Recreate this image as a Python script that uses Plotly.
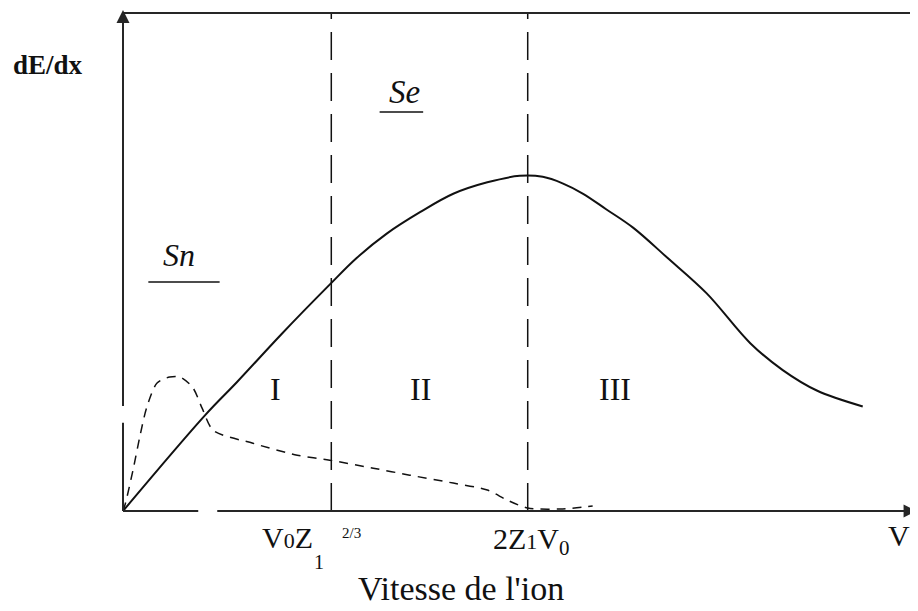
import plotly.graph_objects as go

# electronic stopping Se (solid), arbitrary units 0..100
se_x = [0, 10.35, 14.4, 20.0, 26.0, 29.5, 33.3, 37.5, 41.7, 46.0, 50.1, 53.0, 55.5, 58.1, 61.0, 64.4, 68.7, 73.7, 79.2, 83.3, 87.6, 93.4]
se_y = [0, 19.2, 25.9, 35.5, 45.3, 50.8, 55.7, 60.0, 63.7, 66.0, 67.3, 67.1, 65.8, 63.7, 60.6, 56.9, 50.9, 43.7, 33.7, 28.3, 24.2, 21.0]

# nuclear stopping Sn (dashed)
sn_x = [0, 0.3, 1.26, 2.2, 3.0, 4.3, 5.9, 7.2, 8.8, 10.0, 11.4, 16.4, 22.0, 26.1, 31.6, 36.2, 41.7, 46.0, 48.5, 51.1, 55.2, 59.3]
sn_y = [0, 1.5, 8.2, 15.5, 20.8, 25.7, 26.9, 26.9, 24.8, 20.6, 16.2, 13.6, 11.2, 10.2, 8.6, 7.2, 5.6, 4.2, 2.2, 0.6, 0.4, 1.0]

# region boundaries V0 Z1^2/3 and 2 Z1 V0
boundaries = [26.3, 51.1]
regions = ['I', 'II', 'III']
region_x = [19.2, 37.5, 62.1]

SERIF = 'Liberation Serif'
INK = '#111111'

fig = go.Figure()
fig.add_trace(go.Scatter(x=se_x, y=se_y, mode='lines', line=dict(color=INK, width=2, shape='spline', smoothing=1.0),
                         hoverinfo='skip'))
fig.add_trace(go.Scatter(x=sn_x, y=sn_y, mode='lines',
                         line=dict(color=INK, width=1.5, dash='9px,7px', shape='spline', smoothing=0.8),
                         hoverinfo='skip'))

shapes = []
for b in boundaries:
    shapes.append(dict(type='line', xref='x', yref='paper', x0=b, x1=b, y0=0, y1=1,
                       line=dict(color=INK, width=1.5, dash='28px,13px')))
frame = dict(color='#262626', width=2)
# frame and axes (with the small gaps seen in the original)
shapes += [
    dict(type='line', xref='paper', yref='paper', x0=0, x1=1, y0=1, y1=1, line=frame),
    dict(type='line', xref='paper', yref='paper', x0=0.999, x1=0.999, y0=0, y1=1, line=frame),
    dict(type='line', xref='paper', yref='paper', x0=0, x1=0.095, y0=0, y1=0, line=frame),
    dict(type='line', xref='paper', yref='paper', x0=0.119, x1=1, y0=0, y1=0, line=frame),
    dict(type='line', xref='paper', yref='paper', x0=0, x1=0, y0=0, y1=0.177, line=frame),
    dict(type='line', xref='paper', yref='paper', x0=0, x1=0, y0=0.211, y1=1, line=frame),
    # underlines of Sn and Se
    dict(type='line', xref='x', yref='y', x0=3.2, x1=12.2, y0=46.0, y1=46.0, line=dict(color=INK, width=1.5)),
    dict(type='line', xref='x', yref='y', x0=32.4, x1=37.9, y0=80.1, y1=80.1, line=dict(color=INK, width=1.5)),
]

ann = [
    # axis arrows
    dict(x=0, y=1.006, ax=0, ay=30, showarrow=True, arrowhead=2, arrowsize=1.3,
         arrowwidth=2, arrowcolor='#262626', text=''),
    dict(x=1.002, y=0, ax=-30, ay=0, showarrow=True, arrowhead=2, arrowsize=1.3,
         arrowwidth=2, arrowcolor='#262626', text=''),
    dict(x=-0.0953, y=0.896, text='<b>dE/dx</b>', font=dict(size=27)),
    dict(x=0.0707, y=0.514, text='<i>Sn</i>', font=dict(size=32)),
    dict(x=0.356, y=0.842, text='<i>Se</i>', font=dict(size=33)),
    dict(x=0.208, y=-0.054, text="V<span style='font-size:22px'>0</span>Z", font=dict(size=30)),
    dict(x=0.247, y=-0.102, text='1', font=dict(size=20)),
    dict(x=0.288, y=-0.044, text='2/3', font=dict(size=15)),
    dict(x=0.516, y=-0.060, text="2Z<span style='font-size:22px'>1</span>V<sub>0</sub>", font=dict(size=30)),
    dict(x=0.980, y=-0.050, text='V', font=dict(size=30)),
    dict(x=0.427, y=-0.1556, text="Vitesse de l'ion", font=dict(size=34)),
]
for r, rx in zip(regions, region_x):
    ann.append(dict(x=rx / 100, y=0.245, text=r, font=dict(size=32)))
for a in ann:
    a.setdefault('xref', 'paper')
    a.setdefault('yref', 'paper')
    a.setdefault('showarrow', False)
    a.setdefault('xanchor', 'center')
    a.setdefault('yanchor', 'middle')
    f = a.setdefault('font', {})
    f.setdefault('family', SERIF)
    f.setdefault('color', INK)

# page body adds an 8px offset, so the figure is 8px smaller and margins shifted
fig.update_layout(
    width=910, height=603,
    margin=dict(l=115, r=3, t=5, b=100),
    paper_bgcolor='white',
    plot_bgcolor='white',
    showlegend=False,
    xaxis=dict(range=[0, 100], visible=False),
    yaxis=dict(range=[0, 100], visible=False),
    shapes=shapes,
    annotations=ann,
)

fig.write_html("out.html")
